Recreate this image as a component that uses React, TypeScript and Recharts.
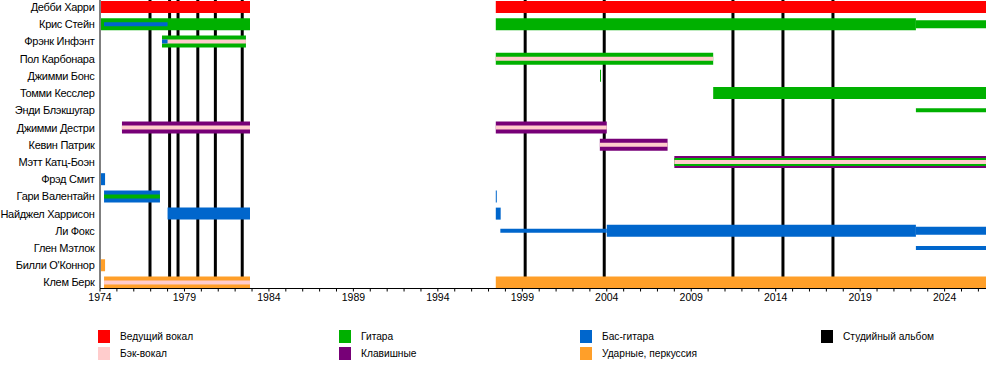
import React from "react";
import { LineChart, Line, XAxis, YAxis } from "recharts";

// ---- data ----
const members = [
  "Дебби Харри",
  "Крис Стейн",
  "Фрэнк Инфэнт",
  "Пол Карбонара",
  "Джимми Бонс",
  "Томми Кесслер",
  "Энди Блэкшугар",
  "Джимми Дестри",
  "Кевин Патрик",
  "Мэтт Катц-Боэн",
  "Фрэд Смит",
  "Гари Валентайн",
  "Найджел Харрисон",
  "Ли Фокс",
  "Глен Мэтлок",
  "Билли О'Коннор",
  "Клем Берк",
];

const END = 2026.45;

// primary roles
const primarySpans = [
  { member: "Дебби Харри", role: "vocals", from: 1974.06, to: 1982.88 },
  { member: "Дебби Харри", role: "vocals", from: 1997.43, to: END },
  { member: "Крис Стейн", role: "guitar", from: 1974.06, to: 1982.88 },
  { member: "Крис Стейн", role: "guitar", from: 1997.43, to: 2022.3 },
  { member: "Фрэнк Инфэнт", role: "guitar", from: 1977.67, to: 1982.64 },
  { member: "Пол Карбонара", role: "guitar", from: 1997.43, to: 2010.3 },
  { member: "Джимми Бонс", role: "guitar", from: 2003.6, to: 2003.66 },
  { member: "Томми Кесслер", role: "guitar", from: 2010.3, to: END },
  { member: "Джимми Дестри", role: "keys", from: 1975.3, to: 1982.88 },
  { member: "Джимми Дестри", role: "keys", from: 1997.43, to: 2004.0 },
  { member: "Кевин Патрик", role: "keys", from: 2003.59, to: 2007.6 },
  { member: "Мэтт Катц-Боэн", role: "keys", from: 2008.0, to: END },
  { member: "Фрэд Смит", role: "bass", from: 1974.06, to: 1974.3 },
  { member: "Гари Валентайн", role: "bass", from: 1974.24, to: 1977.55 },
  { member: "Гари Валентайн", role: "bass", from: 1997.43, to: 1997.49 },
  { member: "Найджел Харрисон", role: "bass", from: 1978.0, to: 1982.88 },
  { member: "Найджел Харрисон", role: "bass", from: 1997.43, to: 1997.72 },
  { member: "Ли Фокс", role: "bass", from: 2004.0, to: 2022.3 },
  { member: "Билли О'Коннор", role: "drums", from: 1974.06, to: 1974.3 },
  { member: "Клем Берк", role: "drums", from: 1974.24, to: 1982.88 },
  { member: "Клем Берк", role: "drums", from: 1997.43, to: END },
];

// secondary roles (touring / part-time)
const secondarySpans = [
  { member: "Крис Стейн", role: "guitar", from: 2022.3, to: END },
  { member: "Мэтт Катц-Боэн", role: "guitar", from: 2008.0, to: END },
  { member: "Ли Фокс", role: "bass", from: 2022.3, to: END },
];

// tertiary roles
const tertiarySpans = [
  { member: "Крис Стейн", role: "bass", from: 1974.24, to: 1978.0 },
  { member: "Фрэнк Инфэнт", role: "backing", from: 1977.67, to: 1982.64 },
  { member: "Фрэнк Инфэнт", role: "bass", from: 1977.67, to: 1978.0 },
  { member: "Пол Карбонара", role: "backing", from: 1997.43, to: 2010.3 },
  { member: "Энди Блэкшугар", role: "guitar", from: 2022.3, to: END },
  { member: "Джимми Дестри", role: "backing", from: 1975.3, to: 1982.88 },
  { member: "Джимми Дестри", role: "backing", from: 1997.43, to: 2004.0 },
  { member: "Кевин Патрик", role: "backing", from: 2003.59, to: 2007.6 },
  { member: "Мэтт Катц-Боэн", role: "backing", from: 2008.0, to: END },
  { member: "Гари Валентайн", role: "guitar", from: 1974.24, to: 1977.55 },
  { member: "Ли Фокс", role: "bass", from: 1997.7, to: 2004.0 },
  { member: "Глен Мэтлок", role: "bass", from: 2022.3, to: END },
  { member: "Клем Берк", role: "backing", from: 1974.24, to: 1982.88 },
];

const albums = [
  { title: "Blondie", year: 1976.96 },
  { title: "Plastic Letters", year: 1978.12 },
  { title: "Parallel Lines", year: 1978.62 },
  { title: "Eat to the Beat", year: 1979.79 },
  { title: "Autoamerican", year: 1980.83 },
  { title: "The Hunter", year: 1982.42 },
  { title: "No Exit", year: 1999.17 },
  { title: "The Curse of Blondie", year: 2003.85 },
  { title: "Panic of Girls", year: 2011.47 },
  { title: "Ghosts of Download", year: 2014.43 },
  { title: "Pollinator", year: 2017.39 },
];

const yearTicks = Array.from({ length: 53 }, (_, i) => 1974 + i);
const labelTicks = [1974, 1979, 1984, 1989, 1994, 1999, 2004, 2009, 2014, 2019, 2024];

const legendColumns = [
  [
    { role: "vocals", label: "Ведущий вокал" },
    { role: "backing", label: "Бэк-вокал" },
  ],
  [
    { role: "guitar", label: "Гитара" },
    { role: "keys", label: "Клавишные" },
  ],
  [
    { role: "bass", label: "Бас-гитара" },
    { role: "drums", label: "Ударные, перкуссия" },
  ],
  [{ role: "album", label: "Студийный альбом" }],
];

// ---- styles ----
const COLORS: Record<string, string> = {
  vocals: "#FF0000",
  backing: "#FFCCCC",
  guitar: "#00B000",
  keys: "#770077",
  bass: "#0066CC",
  drums: "#FF9F29",
  album: "#000000",
};
const FONT = "'Liberation Sans', Arial, Helvetica, sans-serif";
const Y_DOMAIN: [number, number] = [-0.4065, 16.349];
const legendColX = [98, 339, 580, 821];

const XTick = (props: any) => {
  const { x, y, payload } = props;
  if (!labelTicks.includes(payload.value)) return null;
  return (
    <text x={x} y={y + 9} textAnchor="middle" fontSize={10.5} fill="#000" fontFamily={FONT}>
      {payload.value}
    </text>
  );
};

const YTick = (props: any) => {
  const { y, payload } = props;
  return (
    <text x={94.5} y={y} dy={4} textAnchor="end" fontSize={11} letterSpacing={-0.3} fill="#000" fontFamily={FONT}>
      {members[payload.value] ?? ""}
    </text>
  );
};

function spanLines(spans: any[], width: number, prefix: string) {
  return spans.map((s, i) => {
    const row = members.indexOf(s.member);
    return (
      <Line
        key={prefix + i}
        data={[
          { x: s.from, y: row },
          { x: s.to, y: row },
        ]}
        dataKey="y"
        type="linear"
        stroke={COLORS[s.role]}
        strokeWidth={width}
        strokeLinecap="butt"
        dot={false}
        activeDot={false}
        isAnimationActive={false}
      />
    );
  });
}

export default function App() {
  return (
    <div style={{ position: "absolute", left: 0, top: 0, width: 1000, height: 388, background: "#fff", fontFamily: FONT }}>
      <LineChart width={1000} height={388} margin={{ top: 0, right: 14, left: 0, bottom: 69.5 }}>
        <XAxis
          dataKey="x"
          type="number"
          domain={[1974, END]}
          allowDataOverflow
          ticks={yearTicks}
          interval={0}
          tickSize={3}
          tickMargin={0}
          tick={<XTick />}
          height={30}
          axisLine={{ stroke: "#000" }}
          tickLine={{ stroke: "#000" }}
        />
        <YAxis
          dataKey="y"
          type="number"
          domain={Y_DOMAIN}
          reversed
          allowDataOverflow
          ticks={members.map((_, i) => i)}
          interval={0}
          width={100}
          tickLine={false}
          tickSize={0}
          tickMargin={6}
          axisLine={{ stroke: "#000" }}
          tick={<YTick />}
        />
        {albums.map((a, i) => (
          <Line
            key={"album" + i}
            data={[
              { x: a.year, y: Y_DOMAIN[0] },
              { x: a.year, y: Y_DOMAIN[1] },
            ]}
            dataKey="y"
            type="linear"
            stroke={COLORS.album}
            strokeWidth={3}
            dot={false}
            activeDot={false}
            isAnimationActive={false}
          />
        ))}
        {spanLines(primarySpans, 12, "p")}
        {spanLines(secondarySpans, 8, "s")}
        {spanLines(tertiarySpans, 4, "t")}
      </LineChart>
      {legendColumns.map((col, ci) =>
        col.map((item, ri) => (
          <div
            key={item.role}
            style={{ position: "absolute", left: legendColX[ci], top: 330 + ri * 17, height: 13, display: "flex", alignItems: "center" }}
          >
            <div style={{ width: 12, height: 13, background: COLORS[item.role] }} />
            <span style={{ marginLeft: 10, fontSize: 10.2, color: "#000", whiteSpace: "nowrap" }}>{item.label}</span>
          </div>
        ))
      )}
    </div>
  );
}
